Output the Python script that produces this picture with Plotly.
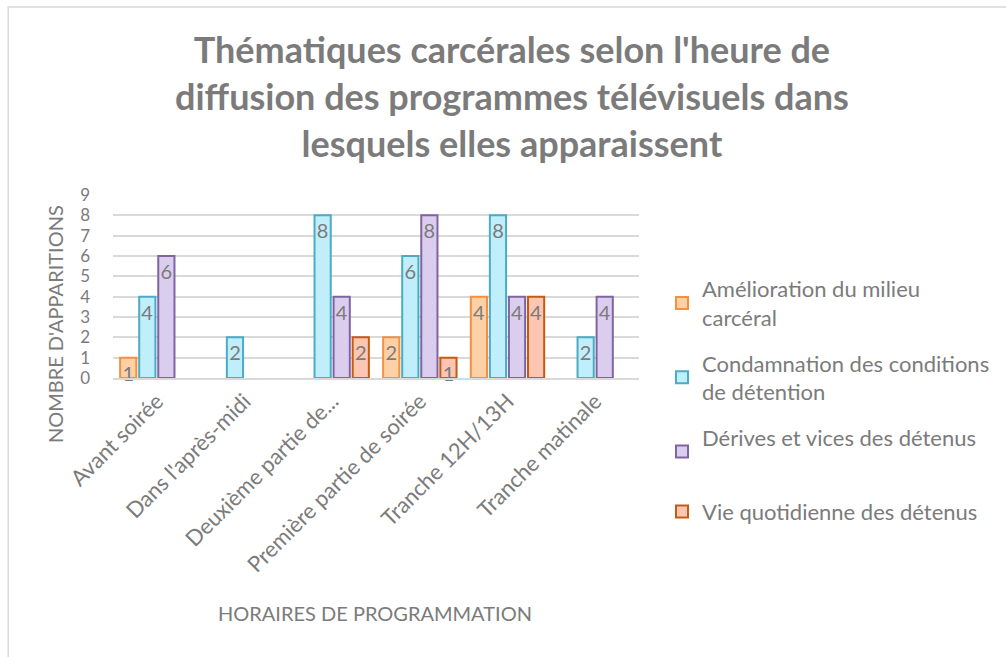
import plotly.graph_objects as go

categories = ["Avant soirée", "Dans l'après-midi", "Deuxième partie de...",
              "Première partie de soirée", "Tranche 12H/13H", "Tranche matinale"]

series_names = ["Amélioration du milieu<br>carcéral",
                "Condamnation des conditions<br>de détention",
                "Dérives et vices des détenus<br> ",
                "Vie quotidienne des détenus"]

amelioration = [1, None, None, 2, 4, None]
condamnation = [4, 2, 8, 6, 8, 2]
derives = [6, None, 4, 8, 4, 4]
vie_quotidienne = [None, None, 2, 1, 4, None]

values = [amelioration, condamnation, derives, vie_quotidienne]
fills = ["#FCD1A8", "#C0EEFA", "#DBCDEE", "#FCC6B2"]
borders = ["#F4903F", "#4AACC6", "#8064A2", "#C55A11"]

y_ticks = list(range(0, 10))

FONT = "Lato"
GREY = "#7b7b7b"

fig = go.Figure()
for i, (name, vals) in enumerate(zip(series_names, values)):
    fig.add_trace(go.Bar(
        x=categories, y=vals, name=name, legendgroup=str(i),
        marker=dict(color=fills[i], line=dict(color=borders[i], width=2)),
        text=[("" if v is None else str(v)) for v in vals],
        textposition="inside", insidetextanchor="end", constraintext="none",
        textfont=dict(family=FONT, size=20, color=GREY),
        cliponaxis=False,
    ))

PL, PR, PT, PB = 113, 640, 195, 378
W, H = PR - PL, PB - PT


def px(x):
    return (x - PL) / W


def py(y):
    return (PB - y) / H


fig.update_layout(
    width=1006, height=657,
    margin=dict(l=PL, r=1006 - PR, t=PT, b=657 - PB),
    paper_bgcolor="white", plot_bgcolor="white",
    barmode="group", bargap=0.13, bargroupgap=0.15,
    font=dict(family=FONT, color=GREY),
    legend=dict(
        x=px(662), xanchor="left", y=py(268), yanchor="top",
        font=dict(family=FONT, size=22, color=GREY),
        tracegroupgap=14, bgcolor="rgba(0,0,0,0)", maxheight=500,
    ),
    xaxis=dict(
        tickangle=-45, tickfont=dict(family=FONT, size=22, color=GREY),
        showline=True, linecolor="#D9D9D9", linewidth=1.5, ticks="",
    ),
    yaxis=dict(
        range=[0, 9], tickvals=y_ticks, ticktext=[str(t) for t in y_ticks],
        tickfont=dict(family=FONT, size=17, color=GREY),
        showgrid=True, gridcolor="#D9D9D9", gridwidth=1.5,
        zeroline=False, showline=False, ticks="", ticklabelstandoff=22,
    ),
    annotations=[
        dict(text="Thématiques carcérales selon l'heure de<br>diffusion des programmes télévisuels dans<br>lesquels elles apparaissent",
             xref="paper", yref="paper", x=px(513), y=py(96),
             xanchor="center", yanchor="middle", showarrow=False,
             font=dict(family=FONT, size=36, color=GREY, weight="bold")),
        dict(text="NOMBRE D'APPARITIONS", xref="paper", yref="paper",
             x=px(55), y=py(324), textangle=-90,
             showarrow=False, font=dict(family=FONT, size=20, color=GREY),
             xanchor="center", yanchor="middle"),
        dict(text="HORAIRES DE PROGRAMMATION", xref="paper", yref="paper",
             x=px(375), y=py(613), showarrow=False,
             font=dict(family=FONT, size=20, color=GREY),
             xanchor="center", yanchor="middle"),
    ],
    shapes=[
        dict(type="rect", xref="paper", yref="paper",
             x0=px(8), x1=px(1020), y0=py(670), y1=py(7),
             line=dict(color="#D9D9D9", width=1.5), fillcolor="rgba(0,0,0,0)",
             layer="below"),
    ],
)

fig.write_html("out.html", config={"displayModeBar": False},
               post_script="document.body.style.margin='0';")
